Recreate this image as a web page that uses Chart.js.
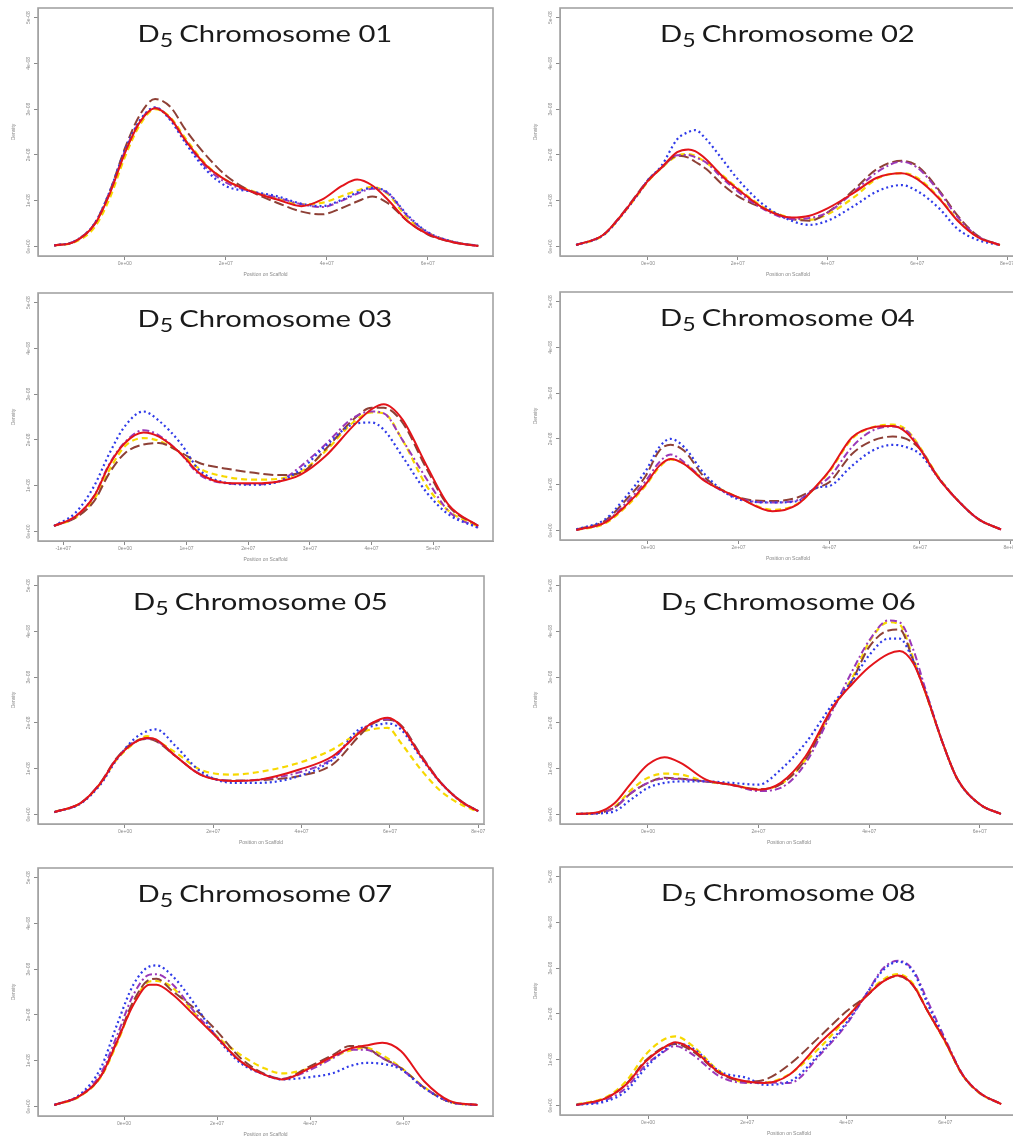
<!DOCTYPE html>
<html><head><meta charset="utf-8">
<script src="https://cdn.jsdelivr.net/npm/chart.js@4.4.1/dist/chart.umd.min.js"></script>
<style>
html,body{margin:0;padding:0;background:#fff;overflow:hidden;width:1013px;height:1139px;position:relative}
canvas{position:absolute}
</style></head><body>
<script>
// ---- DATA (x in units of 1e7 bp, density in units of 1e-8) ----
const yTickValues = [0, 1, 2, 3, 4, 5];
const yTickLabels = ['0e+00', '1e-08', '2e-08', '3e-08', '4e-08', '5e-08'];
const xTicksEven = [0, 2, 4, 6, 8];
const xLabelsEven = ['0e+00', '2e+07', '4e+07', '6e+07', '8e+07'];
const xTicks03 = [-1, 0, 1, 2, 3, 4, 5];
const xLabels03 = ['-1e+07', '0e+00', '1e+07', '2e+07', '3e+07', '4e+07', '5e+07'];
const titles = ['Chromosome 01','Chromosome 02','Chromosome 03','Chromosome 04','Chromosome 05','Chromosome 06','Chromosome 07','Chromosome 08'];

const chr01Pos    = [-1.4,-1.0,-0.6,-0.3,0,0.3,0.6,0.9,1.2,1.6,2.0,2.5,3.0,3.5,3.9,4.3,4.6,4.9,5.2,5.6,6.0,6.5,7.0];
const chr01Red    = [0.02,0.10,0.48,1.15,2.04,2.72,3.02,2.80,2.32,1.78,1.45,1.20,1.03,0.88,1.02,1.32,1.46,1.33,1.03,0.55,0.27,0.09,0.01];
const chr01Yellow = [0.02,0.09,0.42,1.05,1.95,2.66,3.00,2.82,2.36,1.80,1.45,1.22,1.05,0.92,0.95,1.10,1.22,1.30,1.15,0.62,0.30,0.10,0.01];
const chr01Blue   = [0.02,0.11,0.50,1.20,2.10,2.76,3.04,2.76,2.26,1.68,1.32,1.20,1.10,0.93,0.88,1.02,1.18,1.28,1.18,0.68,0.31,0.10,0.01];
const chr01Brown  = [0.02,0.11,0.50,1.20,2.14,2.88,3.22,3.05,2.55,2.00,1.55,1.20,0.96,0.76,0.70,0.84,0.98,1.09,0.95,0.55,0.26,0.09,0.01];
const chr01Purple = [0.02,0.11,0.49,1.17,2.08,2.74,3.03,2.78,2.30,1.74,1.40,1.20,1.07,0.92,0.86,1.00,1.15,1.26,1.17,0.66,0.30,0.10,0.01];

const chr02Pos    = [-1.6,-1.0,-0.6,-0.2,0,0.3,0.65,0.9,1.05,1.3,1.65,2.0,2.6,3.2,3.6,4.0,4.6,5.1,5.65,6.0,6.5,6.9,7.35,7.84];
const chr02Red    = [0.03,0.25,0.67,1.18,1.43,1.72,2.06,2.12,2.08,1.90,1.54,1.25,0.82,0.63,0.67,0.83,1.18,1.50,1.60,1.47,1.03,0.56,0.20,0.03];
const chr02Yellow = [0.03,0.24,0.66,1.16,1.42,1.71,1.98,2.02,1.98,1.83,1.56,1.27,0.84,0.62,0.58,0.70,1.08,1.48,1.60,1.50,1.05,0.58,0.21,0.03];
const chr02Blue   = [0.03,0.24,0.66,1.17,1.45,1.76,2.34,2.50,2.54,2.34,1.91,1.47,0.89,0.56,0.47,0.56,0.89,1.20,1.34,1.21,0.82,0.38,0.14,0.03];
const chr02Brown  = [0.03,0.25,0.68,1.20,1.45,1.72,1.98,1.94,1.85,1.69,1.36,1.10,0.82,0.60,0.56,0.74,1.25,1.69,1.87,1.76,1.21,0.67,0.23,0.03];
const chr02Purple = [0.03,0.25,0.67,1.18,1.44,1.72,1.99,2.00,1.95,1.83,1.50,1.20,0.80,0.60,0.62,0.74,1.20,1.62,1.85,1.72,1.18,0.64,0.22,0.03];

const chr03Pos    = [-1.15,-0.8,-0.5,-0.25,0,0.3,0.55,0.9,1.2,1.65,2.1,2.5,2.85,3.25,3.7,4.0,4.2,4.5,4.9,5.25,5.73];
const chr03Red    = [0.12,0.33,0.77,1.46,1.93,2.16,2.07,1.71,1.28,1.06,1.05,1.09,1.24,1.64,2.30,2.67,2.78,2.45,1.42,0.58,0.12];
const chr03Yellow = [0.12,0.30,0.70,1.35,1.86,2.04,1.98,1.71,1.38,1.19,1.13,1.15,1.30,1.75,2.38,2.60,2.58,2.00,0.98,0.45,0.10];
const chr03Blue   = [0.12,0.41,0.99,1.71,2.30,2.62,2.42,1.93,1.35,1.06,1.02,1.09,1.35,1.86,2.34,2.38,2.22,1.64,0.84,0.37,0.08];
const chr03Brown  = [0.12,0.30,0.66,1.28,1.71,1.90,1.93,1.73,1.50,1.37,1.28,1.23,1.28,1.79,2.44,2.70,2.70,2.38,1.35,0.55,0.12];
const chr03Purple = [0.12,0.33,0.78,1.48,1.95,2.21,2.10,1.70,1.25,1.05,1.03,1.10,1.42,1.90,2.48,2.62,2.58,2.00,1.13,0.44,0.08];

const chr04Pos    = [-1.58,-0.95,-0.5,-0.05,0.25,0.5,0.8,1.25,2.0,2.75,3.3,3.75,4.0,4.5,4.95,5.4,5.7,6.0,6.4,6.85,7.3,7.79];
const chr04Red    = [0.01,0.17,0.53,1.01,1.41,1.56,1.45,1.08,0.72,0.42,0.57,1.01,1.30,2.03,2.25,2.28,2.14,1.78,1.16,0.64,0.24,0.02];
const chr04Yellow = [0.01,0.15,0.50,0.98,1.38,1.55,1.46,1.10,0.72,0.45,0.58,1.00,1.28,2.00,2.25,2.31,2.20,1.82,1.18,0.64,0.24,0.02];
const chr04Blue   = [0.02,0.24,0.72,1.30,1.82,2.00,1.82,1.23,0.68,0.61,0.64,0.94,0.97,1.41,1.74,1.87,1.82,1.67,1.16,0.64,0.24,0.02];
const chr04Brown  = [0.02,0.21,0.65,1.19,1.74,1.87,1.74,1.16,0.72,0.64,0.72,0.94,1.05,1.67,1.96,2.05,2.00,1.78,1.16,0.64,0.24,0.02];
const chr04Purple = [0.01,0.18,0.58,1.08,1.49,1.66,1.49,1.10,0.70,0.61,0.66,0.98,1.16,1.82,2.18,2.27,2.18,1.80,1.16,0.64,0.24,0.02];

const chr05Pos    = [-1.6,-1.0,-0.55,-0.2,0.2,0.5,0.7,1.15,1.7,2.45,3.05,3.95,4.7,5.3,5.6,5.95,6.25,6.7,7.15,7.6,8.0];
const chr05Red    = [0.05,0.25,0.69,1.20,1.56,1.67,1.64,1.27,0.87,0.73,0.76,0.98,1.27,1.78,2.00,2.11,1.93,1.27,0.69,0.29,0.07];
const chr05Yellow = [0.05,0.25,0.68,1.18,1.55,1.71,1.62,1.35,0.98,0.87,0.93,1.13,1.42,1.78,1.86,1.89,1.56,0.98,0.51,0.22,0.06];
const chr05Blue   = [0.05,0.24,0.66,1.18,1.64,1.82,1.86,1.49,0.95,0.69,0.69,0.84,1.20,1.86,1.93,1.99,1.86,1.24,0.69,0.29,0.07];
const chr05Brown  = [0.05,0.25,0.70,1.22,1.58,1.65,1.60,1.27,0.88,0.74,0.75,0.84,1.09,1.71,1.98,2.07,1.95,1.30,0.70,0.30,0.07];
const chr05Purple = [0.05,0.25,0.69,1.20,1.57,1.66,1.62,1.27,0.88,0.73,0.76,0.92,1.22,1.80,2.00,2.08,1.92,1.28,0.70,0.29,0.07];

const chr06Pos    = [-1.3,-0.9,-0.6,-0.3,0,0.3,0.6,1.05,1.5,2.0,2.4,2.85,3.35,3.7,4.0,4.35,4.55,4.8,5.0,5.35,5.6,6.0,6.38];
const chr06Red    = [0.01,0.05,0.25,0.69,1.09,1.25,1.12,0.76,0.65,0.54,0.69,1.27,2.36,2.86,3.22,3.51,3.57,3.30,2.72,1.49,0.76,0.22,0.01];
const chr06Yellow = [0.01,0.04,0.17,0.54,0.80,0.89,0.87,0.72,0.65,0.55,0.66,1.20,2.35,3.00,3.77,4.20,4.15,3.40,2.72,1.49,0.76,0.22,0.01];
const chr06Blue   = [0.01,0.02,0.07,0.33,0.58,0.69,0.72,0.72,0.69,0.65,0.98,1.56,2.43,2.93,3.48,3.84,3.84,3.35,2.75,1.49,0.76,0.22,0.01];
const chr06Brown  = [0.01,0.03,0.15,0.47,0.69,0.80,0.78,0.72,0.65,0.55,0.66,1.20,2.33,2.95,3.66,4.02,4.04,3.35,2.72,1.49,0.76,0.22,0.01];
const chr06Purple = [0.01,0.03,0.15,0.47,0.69,0.78,0.77,0.72,0.65,0.51,0.58,1.12,2.30,3.15,3.80,4.24,4.20,3.59,2.80,1.49,0.76,0.22,0.01];

const chr07Pos    = [-1.5,-0.95,-0.5,-0.15,0.2,0.55,0.7,1.05,1.5,2.0,2.5,3.0,3.4,4.0,4.5,4.85,5.2,5.55,5.95,6.45,7.0,7.6];
const chr07Red    = [0.03,0.23,0.66,1.42,2.22,2.66,2.66,2.44,2.00,1.50,0.99,0.70,0.59,0.84,1.10,1.26,1.33,1.39,1.21,0.55,0.12,0.03];
const chr07Yellow = [0.03,0.22,0.64,1.38,2.25,2.73,2.74,2.59,2.05,1.53,1.13,0.84,0.72,0.84,1.08,1.22,1.28,1.12,0.85,0.42,0.10,0.03];
const chr07Blue   = [0.03,0.26,0.84,1.79,2.66,3.06,3.08,2.84,2.26,1.50,0.95,0.70,0.59,0.64,0.73,0.88,0.95,0.93,0.81,0.40,0.10,0.03];
const chr07Brown  = [0.03,0.23,0.66,1.44,2.30,2.77,2.79,2.51,2.15,1.64,1.06,0.72,0.60,0.88,1.13,1.32,1.28,1.06,0.84,0.41,0.10,0.03];
const chr07Purple = [0.03,0.24,0.72,1.55,2.44,2.88,2.89,2.66,2.08,1.52,0.98,0.70,0.60,0.80,1.06,1.24,1.24,1.06,0.82,0.41,0.10,0.03];

const chr08Pos    = [-1.45,-0.85,-0.45,-0.05,0.3,0.55,0.9,1.45,2.0,2.35,2.85,3.5,4.0,4.4,4.75,5.05,5.35,5.65,6.0,6.35,6.7,7.13];
const chr08Red    = [0.01,0.16,0.45,0.96,1.25,1.38,1.22,0.71,0.52,0.49,0.67,1.40,1.91,2.38,2.71,2.84,2.63,2.05,1.40,0.67,0.27,0.03];
const chr08Yellow = [0.02,0.18,0.52,1.11,1.43,1.51,1.30,0.74,0.50,0.50,0.68,1.30,1.90,2.40,2.75,2.87,2.66,2.05,1.38,0.66,0.26,0.03];
const chr08Blue   = [0.01,0.09,0.31,0.82,1.18,1.36,1.25,0.74,0.60,0.45,0.52,1.18,1.80,2.42,2.96,3.14,2.93,2.20,1.42,0.67,0.27,0.03];
const chr08Brown  = [0.01,0.16,0.46,0.98,1.26,1.34,1.18,0.70,0.52,0.56,0.89,1.54,2.05,2.38,2.72,2.83,2.62,2.05,1.40,0.67,0.27,0.03];
const chr08Purple = [0.01,0.12,0.38,0.88,1.16,1.30,1.11,0.63,0.49,0.50,0.49,1.14,1.76,2.42,3.00,3.16,2.96,2.27,1.45,0.68,0.27,0.03];

// ---- STYLE / LAYOUT ----
const seriesStyle = [
  {name:'red',    color:'#e3141a', dash:[],          width:2},
  {name:'blue',   color:'#2f3ae8', dash:[2,3],       width:2.2},
  {name:'purple', color:'#9a38b8', dash:[7,3,2,3],   width:2},
  {name:'brown',  color:'#8e4036', dash:[10,4],      width:2},
  {name:'yellow', color:'#f7d800', dash:[6,4],       width:2.2}
];
const panelData = [
  {pos:chr01Pos, s:{red:chr01Red, yellow:chr01Yellow, blue:chr01Blue, brown:chr01Brown, purple:chr01Purple}, xt:xTicksEven.slice(0,4), xl:xLabelsEven.slice(0,4)},
  {pos:chr02Pos, s:{red:chr02Red, yellow:chr02Yellow, blue:chr02Blue, brown:chr02Brown, purple:chr02Purple}, xt:xTicksEven, xl:xLabelsEven},
  {pos:chr03Pos, s:{red:chr03Red, yellow:chr03Yellow, blue:chr03Blue, brown:chr03Brown, purple:chr03Purple}, xt:xTicks03, xl:xLabels03},
  {pos:chr04Pos, s:{red:chr04Red, yellow:chr04Yellow, blue:chr04Blue, brown:chr04Brown, purple:chr04Purple}, xt:xTicksEven, xl:xLabelsEven},
  {pos:chr05Pos, s:{red:chr05Red, yellow:chr05Yellow, blue:chr05Blue, brown:chr05Brown, purple:chr05Purple}, xt:xTicksEven, xl:xLabelsEven},
  {pos:chr06Pos, s:{red:chr06Red, yellow:chr06Yellow, blue:chr06Blue, brown:chr06Brown, purple:chr06Purple}, xt:xTicksEven.slice(0,4), xl:xLabelsEven.slice(0,4)},
  {pos:chr07Pos, s:{red:chr07Red, yellow:chr07Yellow, blue:chr07Blue, brown:chr07Brown, purple:chr07Purple}, xt:xTicksEven.slice(0,4), xl:xLabelsEven.slice(0,4)},
  {pos:chr08Pos, s:{red:chr08Red, yellow:chr08Yellow, blue:chr08Blue, brown:chr08Brown, purple:chr08Purple}, xt:xTicksEven.slice(0,4), xl:xLabelsEven.slice(0,4)}
];
// box left/right (page px), zero-line y (page px), x range
const layout = [
  {L:38,  R:493,  zeroY:247,  xmin:-1.72, xmax:7.29},
  {L:560, R:1016, zeroY:247,  xmin:-1.96, xmax:8.2},
  {L:38,  R:493,  zeroY:532,  xmin:-1.41, xmax:5.97},
  {L:560, R:1016, zeroY:531,  xmin:-1.94, xmax:8.12},
  {L:38,  R:484,  zeroY:815,  xmin:-1.97, xmax:8.13},
  {L:560, R:1018, zeroY:815,  xmin:-1.59, xmax:6.69},
  {L:38,  R:493,  zeroY:1107, xmin:-1.85, xmax:7.93},
  {L:560, R:1018, zeroY:1106, xmin:-1.78, xmax:7.47}
];
const YMIN = -0.21, YMAX = 5.21, PX_PER_UNIT = 45.8;
const AXW = 40, AXH = 40, PADT = 8, PADR = 10;
const TITLE_W = 256;

const decor = {
  id:'decor',
  afterDraw(chart, args, opts){
    const ctx = chart.ctx, a = chart.chartArea;
    ctx.save();
    ctx.strokeStyle = '#a3a3a3'; ctx.lineWidth = 1.6;
    ctx.strokeRect(a.left, a.top, a.right - a.left, a.bottom - a.top);
    // title  D5 Chromosome NN
    const F = 24, FS = 19;
    const cx = (a.left + a.right) / 2;
    const base = a.top + 34;
    ctx.fillStyle = '#1a1a1a';
    ctx.textBaseline = 'alphabetic'; ctx.textAlign = 'left';
    ctx.font = F + 'px Lato';
    const wD = ctx.measureText('D').width;
    const rest = ' ' + opts.title;
    const wR = ctx.measureText(rest).width;
    ctx.font = FS + 'px Lato';
    const w5 = ctx.measureText('5').width;
    const total = wD + w5 + wR;
    const sx = TITLE_W / total;
    ctx.save();
    ctx.translate(cx - TITLE_W / 2, base);
    ctx.scale(sx, 1);
    let x = 0;
    ctx.font = F + 'px Lato';
    ctx.fillText('D', x, 0); x += wD;
    ctx.font = FS + 'px Lato';
    ctx.fillText('5', x, 5); x += w5;
    ctx.font = F + 'px Lato';
    ctx.fillText(rest, x - 1, 0);
    ctx.restore();
    // y tick labels (rotated, R style)
    const ys = chart.scales.y;
    ctx.fillStyle = '#8a8a8a';
    ctx.font = '5px "Liberation Sans"';
    ctx.textAlign = 'center'; ctx.textBaseline = 'bottom';
    yTickValues.forEach((v, i) => {
      const py = ys.getPixelForValue(v);
      ctx.save(); ctx.translate(a.left - 7, py); ctx.rotate(-Math.PI / 2);
      ctx.fillText(yTickLabels[i], 0, 0); ctx.restore();
    });
    // y title
    const yMid = (ys.getPixelForValue(0) + ys.getPixelForValue(5)) / 2;
    ctx.save(); ctx.translate(a.left - 22, yMid); ctx.rotate(-Math.PI / 2);
    ctx.fillText('Density', 0, 0); ctx.restore();
    // x title
    ctx.textBaseline = 'middle';
    ctx.fillText('Position on Scaffold', cx, a.bottom + 19);
    ctx.restore();
  }
};

layout.forEach((lay, k) => {
  const pd = panelData[k];
  const boxH = (YMAX - YMIN) * PX_PER_UNIT;
  const T = lay.zeroY - YMAX * PX_PER_UNIT;
  const cv = document.createElement('canvas');
  const W = Math.round(lay.R - lay.L) + AXW + PADR;
  const H = Math.round(boxH) + AXH + PADT;
  cv.width = W; cv.height = H;
  cv.style.left = Math.round(lay.L - AXW) + 'px';
  cv.style.top = Math.round(T - PADT) + 'px';
  cv.style.width = W + 'px'; cv.style.height = H + 'px';
  document.body.appendChild(cv);
  new Chart(cv, {
    type:'line',
    data:{
      datasets: seriesStyle.map(st => ({
        label: st.name,
        data: pd.pos.map((p, i) => ({x:p, y:pd.s[st.name][i]})),
        borderColor: st.color, borderWidth: st.width, borderDash: st.dash,
        pointRadius: 0, fill: false, cubicInterpolationMode: 'monotone'
      }))
    },
    options:{
      responsive:false, animation:false, events:[],
      layout:{padding:{top:PADT, right:PADR, left:0, bottom:0}},
      plugins:{legend:{display:false}, tooltip:{enabled:false}, decor:{title:titles[k]}},
      scales:{
        x:{type:'linear', min:lay.xmin, max:lay.xmax,
          afterBuildTicks: s => { s.ticks = pd.xt.map(v => ({value:v})); },
          afterFit: s => { s.height = AXH; s.paddingLeft = 0; s.paddingRight = 0; },
          ticks:{callback:(v, i) => pd.xl[i], font:{size:5, family:'"Liberation Sans"'}, color:'#8a8a8a', padding:1, maxRotation:0, minRotation:0, autoSkip:false},
          grid:{drawOnChartArea:false, drawTicks:true, tickLength:4, color:'#8a8a8a'},
          border:{color:'#a3a3a3'}
        },
        y:{type:'linear', min:YMIN, max:YMAX,
          afterBuildTicks: s => { s.ticks = yTickValues.map(v => ({value:v})); },
          afterFit: s => { s.width = AXW; s.paddingTop = 0; s.paddingBottom = 0; },
          ticks:{display:false},
          grid:{drawOnChartArea:false, drawTicks:true, tickLength:4, color:'#8a8a8a'},
          border:{color:'#a3a3a3'}
        }
      }
    },
    plugins:[decor]
  });
});
</script>
</body></html>
